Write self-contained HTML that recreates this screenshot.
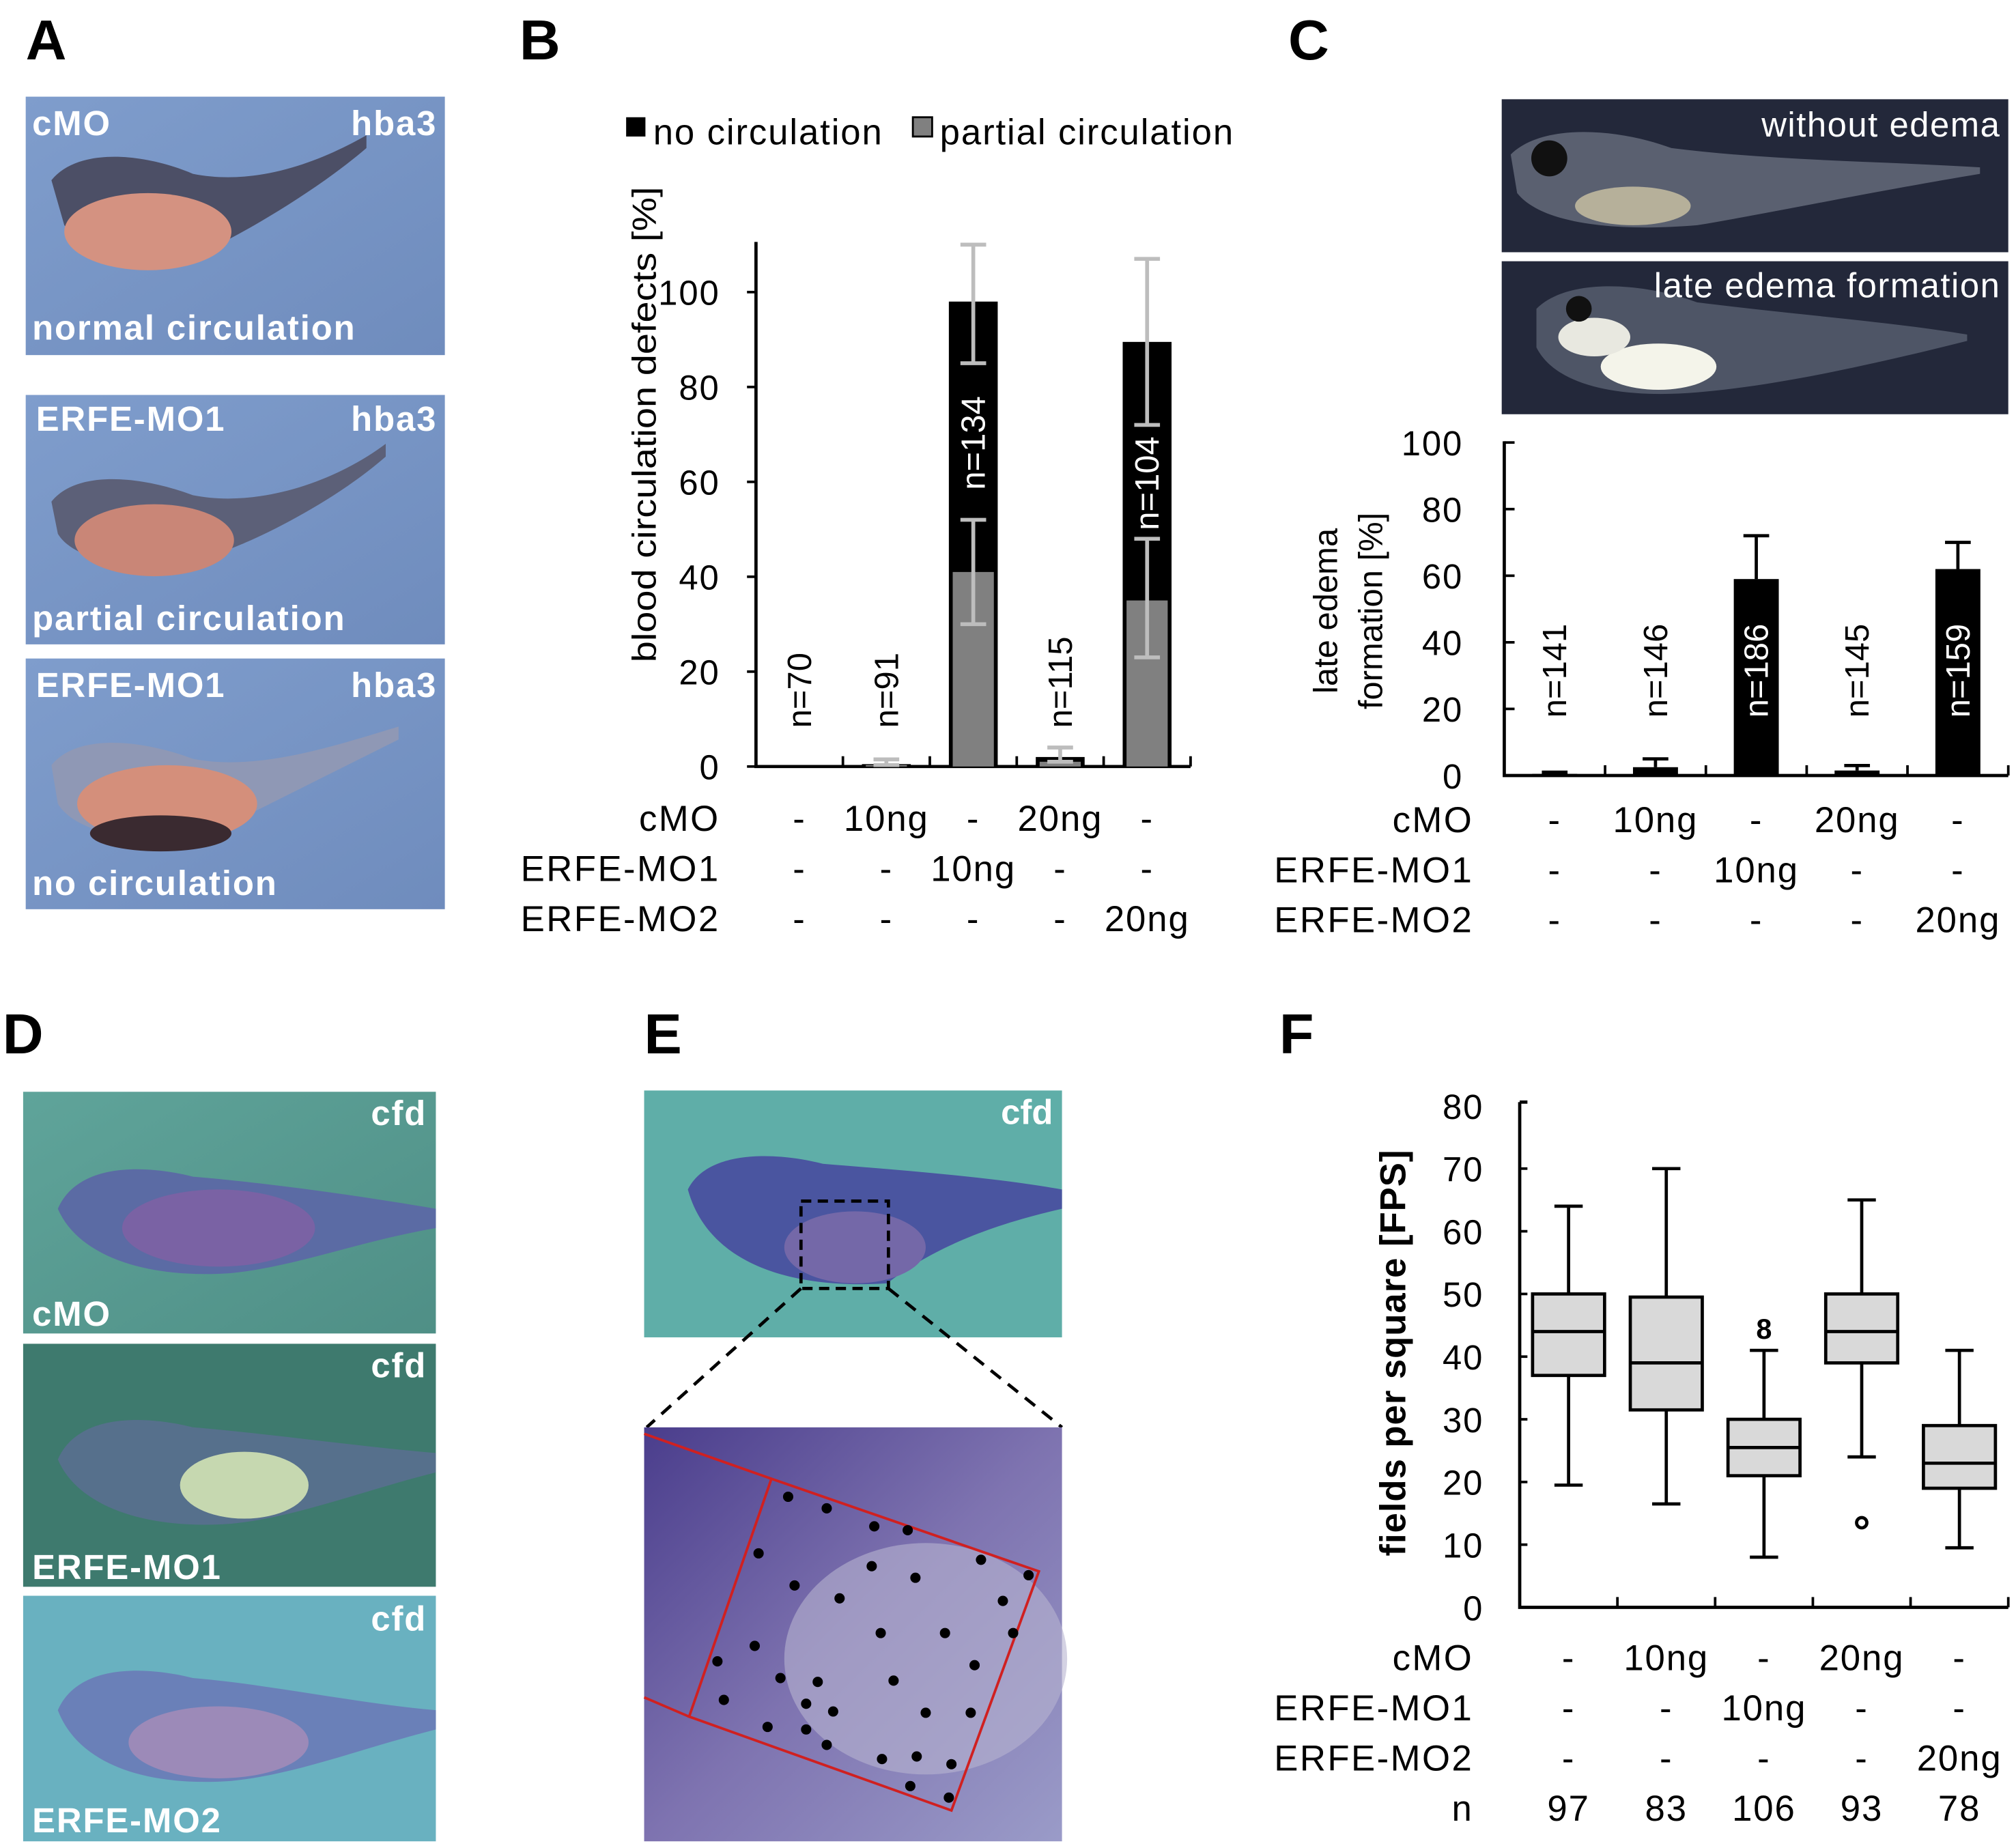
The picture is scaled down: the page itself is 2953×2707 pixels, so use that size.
<!DOCTYPE html>
<html><head><meta charset="utf-8"><style>
html,body{margin:0;padding:0;background:#fff}
svg{display:block}
text{font-family:"Liberation Sans",sans-serif}
</style></head><body>
<svg id="fig" width="2953" height="2707" viewBox="0 0 1568 1437" xmlns="http://www.w3.org/2000/svg">
<defs>
<linearGradient id="gA" x1="0" y1="0" x2="1" y2="1"><stop offset="0" stop-color="#7f9dcc"/><stop offset="1" stop-color="#6f8cbd"/></linearGradient>
<linearGradient id="gD" x1="0" y1="0" x2="1" y2="1"><stop offset="0" stop-color="#5fa49a"/><stop offset="1" stop-color="#4f8f86"/></linearGradient>
<linearGradient id="gE2" x1="0" y1="0" x2="1" y2="1"><stop offset="0" stop-color="#4a3d8c"/><stop offset="0.5" stop-color="#7e73b0"/><stop offset="1" stop-color="#9a9bc8"/></linearGradient>
</defs>

<g font-weight="bold" font-size="44">
<text x="20" y="46">A</text>
<text x="404" y="46">B</text>
<text x="1002" y="46">C</text>
<text x="2" y="819">D</text>
<text x="501" y="819">E</text>
<text x="995" y="819">F</text>
</g>

<g font-weight="bold" font-size="27" fill="#fff" letter-spacing="1">
<g>
<rect x="20" y="75" width="326" height="201" fill="url(#gA)"/>
<path d="M40,140 C60,115 110,118 150,135 C200,145 250,125 285,105 L285,115 C250,145 200,175 170,190 C120,205 70,200 50,175 Z" fill="#4c4f66"/>
<ellipse cx="115" cy="180" rx="65" ry="30" fill="#d49281"/>
<text x="25" y="105">cMO</text><text x="340" y="105" text-anchor="end">hba3</text>
<text x="25" y="264">normal circulation</text>
</g>
<g>
<rect x="20" y="307" width="326" height="194" fill="url(#gA)"/>
<path d="M40,390 C60,365 110,370 150,385 C200,395 260,375 300,345 L300,355 C260,390 200,420 170,430 C120,445 60,440 45,415 Z" fill="#5c6078"/>
<ellipse cx="120" cy="420" rx="62" ry="28" fill="#c98677"/>
<text x="28" y="335">ERFE-MO1</text><text x="340" y="335" text-anchor="end">hba3</text>
<text x="25" y="490">partial circulation</text>
</g>
<g>
<rect x="20" y="512" width="326" height="195" fill="url(#gA)"/>
<path d="M40,595 C60,570 110,575 150,590 C200,600 260,580 310,565 L310,575 C260,600 200,630 170,645 C120,660 60,650 45,625 Z" fill="#8f98b5"/>
<ellipse cx="130" cy="625" rx="70" ry="30" fill="#d48f7b"/>
<ellipse cx="125" cy="648" rx="55" ry="14" fill="#3a2a30"/>
<text x="28" y="542">ERFE-MO1</text><text x="340" y="542" text-anchor="end">hba3</text>
<text x="25" y="696">no circulation</text>
</g>
</g>

<g id="chartB"></g>

<g font-size="27" fill="#fff" letter-spacing="0.8">
<g>
<rect x="1168" y="77" width="394" height="119" fill="#23283a"/>
<path d="M1175,120 C1200,95 1260,100 1300,115 C1380,125 1460,125 1540,130 L1540,135 C1450,150 1380,165 1320,175 C1260,180 1200,175 1180,150 Z" fill="#5a6070"/>
<ellipse cx="1270" cy="160" rx="45" ry="15" fill="#b6b09a"/>
<circle cx="1205" cy="123" r="14" fill="#111"/>
<text x="1556" y="106" text-anchor="end">without edema</text>
</g>
<g>
<rect x="1168" y="203" width="394" height="119" fill="#23283a"/>
<path d="M1195,240 C1220,215 1280,220 1320,235 C1400,245 1470,250 1530,260 L1530,265 C1450,285 1380,300 1320,305 C1260,310 1210,300 1195,270 Z" fill="#4e5566"/>
<ellipse cx="1290" cy="285" rx="45" ry="18" fill="#f4f4ea"/>
<ellipse cx="1240" cy="262" rx="28" ry="15" fill="#e8e8e0"/>
<circle cx="1228" cy="240" r="10" fill="#111"/>
<text x="1556" y="231" text-anchor="end">late edema formation</text>
</g>
</g>

<g id="chartC"></g>

<g font-weight="bold" font-size="27" fill="#fff" letter-spacing="1">
<g>
<rect x="18" y="849" width="321" height="188" fill="url(#gD)"/>
<path d="M45,940 C60,905 110,905 150,915 C210,920 280,930 339,940 L339,955 C280,965 230,985 180,990 C110,995 60,975 45,940 Z" fill="#5b6ba4"/>
<ellipse cx="170" cy="955" rx="75" ry="30" fill="#7a62a4"/>
<text x="332" y="875" text-anchor="end">cfd</text><text x="25" y="1031">cMO</text>
</g>
<g>
<rect x="18" y="1045" width="321" height="189" fill="#3e7a6e"/>
<path d="M45,1135 C60,1100 110,1100 150,1110 C210,1115 280,1125 339,1130 L339,1145 C280,1160 230,1180 180,1185 C110,1190 60,1170 45,1135 Z" fill="#56708c"/>
<ellipse cx="190" cy="1155" rx="50" ry="26" fill="#c6d8b0"/>
<text x="332" y="1071" text-anchor="end">cfd</text><text x="25" y="1228">ERFE-MO1</text>
</g>
<g>
<rect x="18" y="1241" width="321" height="191" fill="#69b1c0"/>
<path d="M45,1330 C60,1295 110,1295 150,1305 C210,1310 280,1325 339,1330 L339,1345 C280,1360 230,1380 180,1385 C110,1390 60,1370 45,1330 Z" fill="#6a80b8"/>
<ellipse cx="170" cy="1355" rx="70" ry="28" fill="#9c8ab8"/>
<text x="332" y="1268" text-anchor="end">cfd</text><text x="25" y="1425">ERFE-MO2</text>
</g>
</g>

<g>
<g>
<rect x="501" y="848" width="325" height="192" fill="#5faea8"/>
<path d="M535,925 C550,895 600,895 640,905 C700,910 770,915 826,925 L826,940 C760,955 720,975 690,998 C610,1003 550,980 535,925 Z" fill="#4a55a0"/>
<ellipse cx="665" cy="970" rx="55" ry="28" fill="#7468a8"/>
<rect x="623" y="934" width="68" height="68" fill="none" stroke="#000" stroke-width="2.5" stroke-dasharray="8,5"/>
<text x="819" y="874" text-anchor="end" font-weight="bold" font-size="27" fill="#fff">cfd</text>
</g>
<line x1="623" y1="1002" x2="503" y2="1110" stroke="#000" stroke-width="2.5" stroke-dasharray="10,7"/>
<line x1="691" y1="1002" x2="826" y2="1110" stroke="#000" stroke-width="2.5" stroke-dasharray="10,7"/>
<g>
<rect x="501" y="1110" width="325" height="322" fill="url(#gE2)"/>
<ellipse cx="720" cy="1290" rx="110" ry="90" fill="#b8b4d0" opacity="0.6"/>
<polygon points="600,1150 808,1222 740,1408 536,1335" fill="none" stroke="#d02020" stroke-width="2"/>
<line x1="501" y1="1115" x2="600" y2="1150" stroke="#d02020" stroke-width="2"/>
<line x1="501" y1="1320" x2="536" y2="1335" stroke="#d02020" stroke-width="2"/>
<g fill="#000">
<circle cx="613" cy="1164" r="4"/><circle cx="643" cy="1173" r="4"/><circle cx="680" cy="1187" r="4"/><circle cx="706" cy="1190" r="4"/>
<circle cx="590" cy="1208" r="4"/><circle cx="678" cy="1218" r="4"/><circle cx="618" cy="1233" r="4"/><circle cx="653" cy="1243" r="4"/>
<circle cx="712" cy="1227" r="4"/><circle cx="763" cy="1213" r="4"/><circle cx="800" cy="1225" r="4"/><circle cx="780" cy="1245" r="4"/>
<circle cx="685" cy="1270" r="4"/><circle cx="735" cy="1270" r="4"/><circle cx="788" cy="1270" r="4"/><circle cx="587" cy="1280" r="4"/>
<circle cx="558" cy="1292" r="4"/><circle cx="607" cy="1305" r="4"/><circle cx="636" cy="1308" r="4"/><circle cx="695" cy="1307" r="4"/>
<circle cx="758" cy="1295" r="4"/><circle cx="563" cy="1322" r="4"/><circle cx="627" cy="1325" r="4"/><circle cx="648" cy="1331" r="4"/>
<circle cx="720" cy="1332" r="4"/><circle cx="755" cy="1332" r="4"/><circle cx="597" cy="1343" r="4"/><circle cx="627" cy="1345" r="4"/>
<circle cx="643" cy="1357" r="4"/><circle cx="686" cy="1368" r="4"/><circle cx="713" cy="1366" r="4"/><circle cx="740" cy="1372" r="4"/>
<circle cx="708" cy="1389" r="4"/><circle cx="738" cy="1398" r="4"/>
</g>
</g>
</g>

<g id="chartF"></g>
</svg>

<script>
// ---------- Panel B data ----------
const bCategories = ["g1","g2","g3","g4","g5"];
const bTotal = [0, 0.5, 98, 2, 89.5];
const bPartial = [0, 0.3, 41, 1, 35];
const bTotalErrHi = [0, 1.5, 110, 4, 107];
const bTotalErrLo = [0, 0.3, 85, 1, 72];
const bPartialErrHi = [0, 0, 52, 0, 48];
const bPartialErrLo = [0, 0, 30, 0, 23];
const bNLabels = ["n=70","n=91","n=134","n=115","n=104"];
const bTicks = [0,20,40,60,80,100];
// ---------- Panel C data ----------
const cValues = [0.5, 2.5, 59, 1.5, 62];
const cErrHi = [1, 5, 72, 3, 70];
const cNLabels = ["n=141","n=146","n=186","n=145","n=159"];
const cTicks = [0,20,40,60,80,100];
// ---------- Panel F data ----------
const fMin = [19.5, 16.5, 8, 24, 9.5];
const fQ1 = [37, 31.5, 21, 39, 19];
const fMed = [44, 39, 25.5, 44, 23];
const fQ3 = [50, 49.5, 30, 50, 29];
const fMax = [64, 70, 41, 65, 41];
const fExtreme = [null, null, 44.5, null, null];
const fOutlier = [null, null, null, 13.5, null];
const fN = ["97","83","106","93","78"];
const fTicks = [0,10,20,30,40,50,60,70,80];
const rowCMO = ["-","10ng","-","20ng","-"];
const rowMO1 = ["-","-","10ng","-","-"];
const rowMO2 = ["-","-","-","-","20ng"];

const NS="http://www.w3.org/2000/svg";
function mk(parent,tag,attrs,txt){const e=document.createElementNS(NS,tag);for(const k in attrs)e.setAttribute(k,attrs[k]);if(txt!==undefined)e.textContent=txt;parent.appendChild(e);return e;}

function conditionTable(g, x0, x1, y0, labelX, withN, nArr){
  const w=(x1-x0)/5;
  const rows=[["cMO",rowCMO],["ERFE-MO1",rowMO1],["ERFE-MO2",rowMO2]];
  if(withN) rows.push(["n",nArr]);
  rows.forEach((r,ri)=>{
    const y=y0+ri*39;
    const t=mk(g,"text",{x:labelX,y:y,"text-anchor":"end","font-size":28,"letter-spacing":1.3},r[0]);
    
    
    r[1].forEach((v,i)=>{
      const c=mk(g,"text",{x:x0+w*(i+0.5),y:y,"text-anchor":"middle","font-size":28,"letter-spacing":1},v);
      
      
    });
  });
}

(function(){
  const g=document.getElementById("chartB");
  const x0=588,x1=926,yTop=188,y0=596,k=3.69;
  const Y=v=>y0-v*k; const w=(x1-x0)/5; const X=i=>x0+w*(i+0.5); const bw=38;
  const ax=mk(g,"path",{d:`M${x0},${yTop}V${y0}H${x1}`,stroke:"#000","stroke-width":2.5,fill:"none"});
  
  
  bTicks.forEach(t=>{
    mk(g,"line",{x1:x0-7,x2:x0,y1:Y(t),y2:Y(t),stroke:"#000","stroke-width":2});
    const tl=mk(g,"text",{x:x0-28,y:Y(t)+10,"text-anchor":"end","font-size":27,"letter-spacing":1},t);
    
    
  });
  for(let i=1;i<=5;i++) mk(g,"line",{x1:x0+w*i,x2:x0+w*i,y1:y0,y2:y0-8,stroke:"#000","stroke-width":2});
  const yt=mk(g,"text",{transform:`translate(510,330) rotate(-90)`,"text-anchor":"middle","font-size":26,"textLength":370,"lengthAdjust":"spacingAndGlyphs"},"blood circulation defects [%]");
  
  
  bCategories.forEach((c,i)=>{
    const b=mk(g,"rect",{x:X(i)-bw/2,y:Y(bTotal[i]),width:bw,height:bTotal[i]*k,fill:"#000"});
    
    
    const p=mk(g,"rect",{x:X(i)-bw/2+3,y:Y(bPartial[i]),width:bw-6,height:bPartial[i]*k,fill:"#808080"});
    
    
    if(bTotalErrHi[i]>0){
      const ex=X(i);
      [[bTotalErrLo[i],bTotalErrHi[i]],[bPartialErrLo[i],bPartialErrHi[i]]].forEach(e=>{
        if(e[1]<=0) return;
        mk(g,"line",{x1:ex,x2:ex,y1:Y(e[0]),y2:Y(e[1]),stroke:"#bdbdbd","stroke-width":3});
        mk(g,"line",{x1:ex-10,x2:ex+10,y1:Y(e[0]),y2:Y(e[0]),stroke:"#bdbdbd","stroke-width":3});
        mk(g,"line",{x1:ex-10,x2:ex+10,y1:Y(e[1]),y2:Y(e[1]),stroke:"#bdbdbd","stroke-width":3});
      });
    }
    const inside = bTotal[i]>50;
    const ny = inside ? Y(bTotal[i])+110 : y0-30;
    const nl=mk(g,"text",{transform:`translate(${X(i)+9},${ny}) rotate(-90)`,"text-anchor":inside?"middle":"start","font-size":26,fill:inside?"#fff":"#000"},bNLabels[i]);
    
    
  });
  const lg=mk(g,"g",{});
  
  
  mk(lg,"rect",{x:487,y:91,width:15,height:15,fill:"#000"});
  mk(lg,"text",{x:508,y:112,"font-size":28,"letter-spacing":1},"no circulation");
  mk(lg,"rect",{x:710,y:91,width:15,height:15,fill:"#808080",stroke:"#000","stroke-width":1.5});
  mk(lg,"text",{x:731,y:112,"font-size":28,"letter-spacing":1},"partial circulation");
  conditionTable(g,x0,x1,646,560,false);
})();

(function(){
  const g=document.getElementById("chartC");
  const x0=1170,x1=1562,yTop=343,y0=603,k=2.59;
  const Y=v=>y0-v*k; const w=(x1-x0)/5; const X=i=>x0+w*(i+0.5); const bw=35;
  const ax=mk(g,"path",{d:`M${x0},${yTop}V${y0}H${x1}`,stroke:"#000","stroke-width":2.5,fill:"none"});
  
  
  cTicks.forEach(t=>{
    mk(g,"line",{x1:x0,x2:x0+8,y1:Y(t),y2:Y(t),stroke:"#000","stroke-width":2});
    const tl=mk(g,"text",{x:x0-32,y:Y(t)+10,"text-anchor":"end","font-size":27,"letter-spacing":1},t);
    
    
  });
  for(let i=1;i<=5;i++) mk(g,"line",{x1:x0+w*i,x2:x0+w*i,y1:y0,y2:y0-8,stroke:"#000","stroke-width":2});
  const t1=mk(g,"text",{transform:`translate(1040,475) rotate(-90)`,"text-anchor":"middle","font-size":26},"late edema");
  
  
  const t2=mk(g,"text",{transform:`translate(1075,475) rotate(-90)`,"text-anchor":"middle","font-size":26},"formation [%]");
  
  
  cValues.forEach((v,i)=>{
    const ex=X(i);
    mk(g,"line",{x1:ex,x2:ex,y1:Y(v),y2:Y(cErrHi[i]),stroke:"#000","stroke-width":2.5});
    mk(g,"line",{x1:ex-10,x2:ex+10,y1:Y(cErrHi[i]),y2:Y(cErrHi[i]),stroke:"#000","stroke-width":2.5});
    const b=mk(g,"rect",{x:ex-bw/2,y:Y(v),width:bw,height:v*k,fill:"#000"});
    
    
    const inside=v>30;
    const nl=mk(g,"text",{transform:`translate(${ex+9},${y0-45}) rotate(-90)`,"text-anchor":"start","font-size":26,fill:inside?"#fff":"#000"},cNLabels[i]);
    
    
  });
  conditionTable(g,x0,x1,647,1146,false);
})();

(function(){
  const g=document.getElementById("chartF");
  const x0=1182,x1=1562,yTop=857,y0=1250,k=4.875;
  const Y=v=>y0-v*k; const w=(x1-x0)/5; const X=i=>x0+w*(i+0.5); const bw=56;
  const ax=mk(g,"path",{d:`M${x0},${yTop}H${x0+6}M${x0},${yTop}V${y0}H${x1}`,stroke:"#000","stroke-width":2.5,fill:"none"});
  
  
  fTicks.forEach(t=>{
    if(t>0 && t<80) mk(g,"line",{x1:x0,x2:x0+6,y1:Y(t),y2:Y(t),stroke:"#000","stroke-width":2});
    const tl=mk(g,"text",{x:x0-28,y:Y(t)+10,"text-anchor":"end","font-size":27,"letter-spacing":1},t);
    
    
  });
  for(let i=1;i<=5;i++) mk(g,"line",{x1:x0+w*i,x2:x0+w*i,y1:y0,y2:y0-8,stroke:"#000","stroke-width":2});
  const yt=mk(g,"text",{transform:`translate(1093,1052) rotate(-90)`,"text-anchor":"middle","font-size":28,"font-weight":"bold","letter-spacing":0.5},"fields per square [FPS]");
  
  
  fMed.forEach((m,i)=>{
    const cx=X(i);
    const bx=mk(g,"g",{});
    
    
    mk(bx,"line",{x1:cx,x2:cx,y1:Y(fMin[i]),y2:Y(fMax[i]),stroke:"#000","stroke-width":2.5});
    mk(bx,"line",{x1:cx-11,x2:cx+11,y1:Y(fMin[i]),y2:Y(fMin[i]),stroke:"#000","stroke-width":2.5});
    mk(bx,"line",{x1:cx-11,x2:cx+11,y1:Y(fMax[i]),y2:Y(fMax[i]),stroke:"#000","stroke-width":2.5});
    mk(bx,"rect",{x:cx-bw/2,y:Y(fQ3[i]),width:bw,height:(fQ3[i]-fQ1[i])*k,fill:"#d9d9d9",stroke:"#000","stroke-width":2.5});
    mk(bx,"line",{x1:cx-bw/2,x2:cx+bw/2,y1:Y(m),y2:Y(m),stroke:"#000","stroke-width":2.5});
    if(fExtreme[i]!==null){
      const ev=mk(bx,"text",{x:cx,y:Y(fExtreme[i])+8,"text-anchor":"middle","font-size":22,"font-weight":"bold"},"8");
      
      
    }
    if(fOutlier[i]!==null){
      const o=mk(bx,"circle",{cx:cx,cy:Y(fOutlier[i]),r:4,fill:"none",stroke:"#000","stroke-width":2.5});
      
      
    }
  });
  conditionTable(g,x0,x1,1299,1146,true,fN);
})();
</script>
</body></html>
